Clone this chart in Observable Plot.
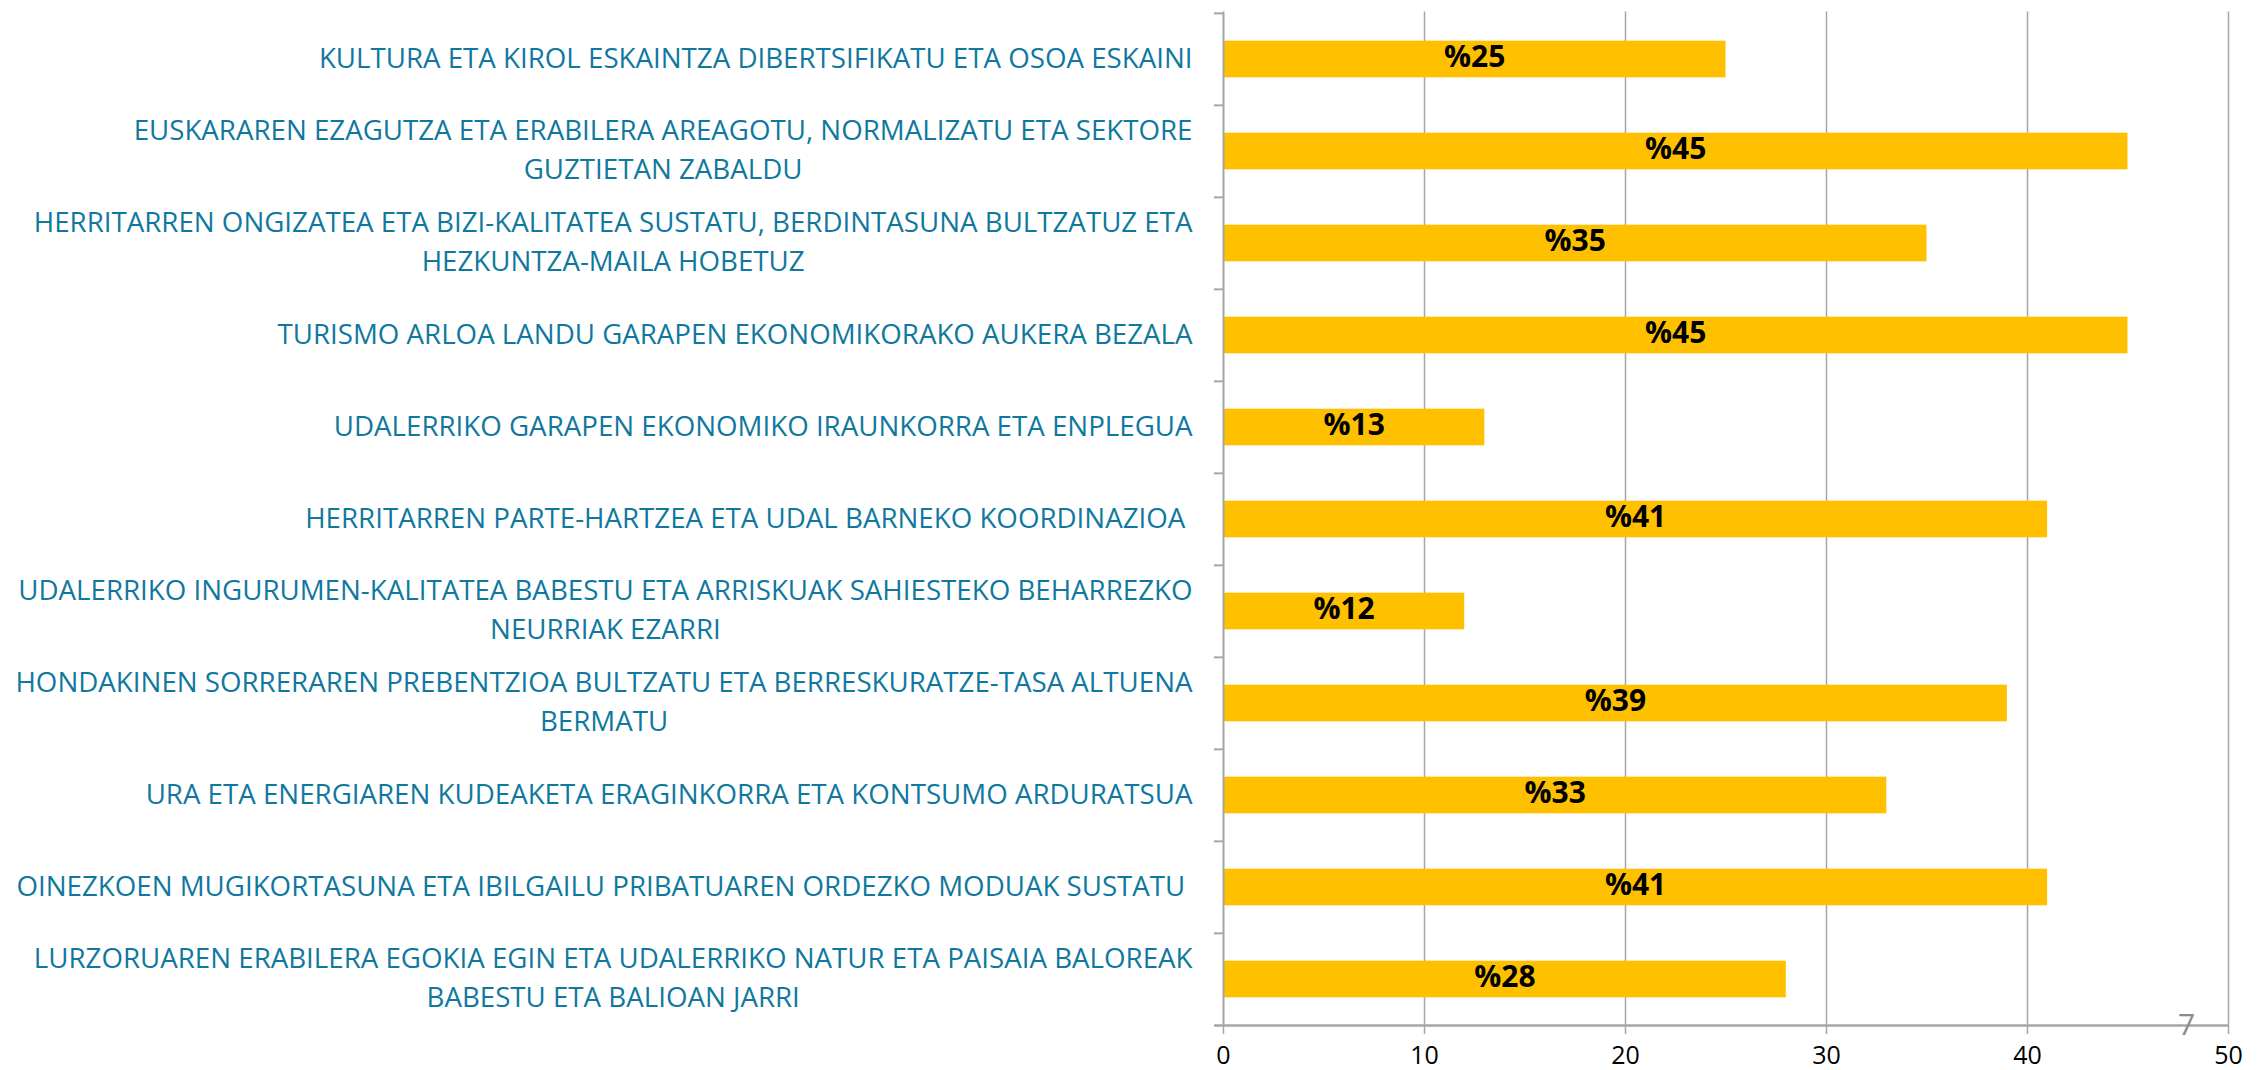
<!DOCTYPE html>
<html><head><meta charset="utf-8">
<script src="https://cdn.jsdelivr.net/npm/d3@7"></script>
<script src="https://cdn.jsdelivr.net/npm/@observablehq/plot@0.6"></script>
<style>body{margin:0;background:#fff} svg{display:block}</style>
</head><body><div id="chart"></div>
<script>
const categories = [
  "KULTURA ETA KIROL ESKAINTZA DIBERTSIFIKATU ETA OSOA ESKAINI",
  "EUSKARAREN EZAGUTZA ETA ERABILERA AREAGOTU, NORMALIZATU ETA SEKTORE\nGUZTIETAN ZABALDU",
  "HERRITARREN ONGIZATEA ETA BIZI-KALITATEA SUSTATU, BERDINTASUNA BULTZATUZ ETA\nHEZKUNTZA-MAILA HOBETUZ",
  "TURISMO ARLOA LANDU GARAPEN EKONOMIKORAKO AUKERA BEZALA",
  "UDALERRIKO GARAPEN EKONOMIKO IRAUNKORRA ETA ENPLEGUA",
  "HERRITARREN PARTE-HARTZEA ETA UDAL BARNEKO KOORDINAZIOA ",
  "UDALERRIKO INGURUMEN-KALITATEA BABESTU ETA ARRISKUAK SAHIESTEKO BEHARREZKO\nNEURRIAK EZARRI",
  "HONDAKINEN SORRERAREN PREBENTZIOA BULTZATU ETA BERRESKURATZE-TASA ALTUENA\nBERMATU",
  "URA ETA ENERGIAREN KUDEAKETA ERAGINKORRA ETA KONTSUMO ARDURATSUA",
  "OINEZKOEN MUGIKORTASUNA ETA IBILGAILU PRIBATUAREN ORDEZKO MODUAK SUSTATU ",
  "LURZORUAREN ERABILERA EGOKIA EGIN ETA UDALERRIKO NATUR ETA PAISAIA BALOREAK\nBABESTU ETA BALIOAN JARRI"
];
const values = [25, 45, 35, 45, 13, 41, 12, 39, 33, 41, 28];
const xTicks = [0, 10, 20, 30, 40, 50];
const pageNumber = ["7"];

const data = categories.map((c, i) => ({category: c, value: values[i]}));

const W = 2262, H = 1070, mt = 11.5, mb = 44, ml = 1223, mr = 34;
const band = (H - mt - mb) / categories.length;
const gray = "#a6a6a6";

const chart = Plot.plot({
  width: W, height: H,
  marginTop: mt, marginBottom: mb, marginLeft: ml, marginRight: mr,
  style: {fontFamily: "'Open Sans', sans-serif", background: "#fff", overflow: "visible"},
  x: {domain: [0, 50], label: null},
  y: {domain: categories, padding: 0, label: null},
  marks: [
    Plot.gridX(xTicks.slice(1), {stroke: gray, strokeOpacity: 1, strokeWidth: 1.5}),
    Plot.barX(data, {x: "value", y: "category", fill: "#ffc000", insetTop: band * 0.3, insetBottom: band * 0.3}),
    Plot.ruleX([0], {stroke: gray, strokeWidth: 2}),
    Plot.ruleY(categories, {y: d => d, x1: 0, x2: 0, insetLeft: -9, dy: -band / 2, stroke: gray, strokeWidth: 2}),
    Plot.ruleY(categories.slice(-1), {y: d => d, x1: 0, x2: 50, insetLeft: -9, dy: band / 2, stroke: gray, strokeWidth: 2.5}),
    Plot.axisX(xTicks, {tickSize: 8, tickPadding: 12, fontSize: 25, stroke: gray, strokeWidth: 1.5, fill: "#000", label: null}),
    Plot.axisY({tickSize: 0, tickPadding: 31, dy: -4, fontSize: 27.7, fill: "#10789e", lineHeight: 39 / 27.7, textAnchor: "end", label: null}),
    Plot.text(data, {x: d => d.value / 2, y: "category", dy: -2, text: d => "%" + d.value, fontSize: 30, fontWeight: "bold", fill: "#000"}),
    Plot.text(pageNumber, {text: d => d, frameAnchor: "bottom-right", dx: -42, dy: 8, textAnchor: "middle", lineAnchor: "bottom", fontSize: 30, fill: "#8c8c8c"})
  ]
});
document.getElementById("chart").append(chart);

// center multi-line category labels around their block, block right-aligned
chart.querySelectorAll("g[aria-label='y-axis tick label'] text").forEach(t => {
  const spans = t.querySelectorAll("tspan");
  if (spans.length < 2) return;
  const w = Math.max(...Array.from(spans, s => s.getComputedTextLength()));
  t.setAttribute("text-anchor", "middle");
  spans.forEach(s => s.setAttribute("x", -w / 2));
});
</script>
</body></html>
